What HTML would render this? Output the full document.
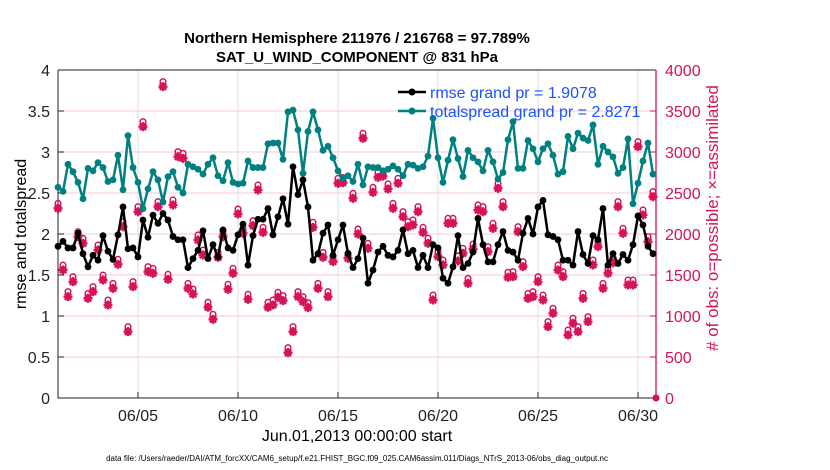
<!DOCTYPE html>
<html><head><meta charset="utf-8"><style>
html,body{margin:0;padding:0;background:#fff;}
svg{display:block;font-family:"Liberation Sans",Arial,sans-serif;}
</style></head><body>
<svg id="chart" width="830" height="470" viewBox="0 0 830 470" xmlns="http://www.w3.org/2000/svg">
<g id="grid"></g>
<g id="axes"></g>
<g id="marks"></g>
<text x="357" y="43" text-anchor="middle" font-size="15" font-weight="bold">Northern Hemisphere 211976 / 216768 = 97.789%</text>
<text x="357" y="62" text-anchor="middle" font-size="15" font-weight="bold">SAT_U_WIND_COMPONENT @ 831 hPa</text>
<text transform="translate(26,234) rotate(-90)" text-anchor="middle" font-size="16">rmse and totalspread</text>
<text transform="translate(718,218) rotate(-90)" text-anchor="middle" font-size="17" fill="#d6125a"># of obs: o=possible; ×=assimilated</text>
<text x="357" y="441" text-anchor="middle" font-size="16">Jun.01,2013 00:00:00 start</text>
<text x="357" y="461" text-anchor="middle" font-size="8">data file: /Users/raeder/DAI/ATM_forcXX/CAM6_setup/f.e21.FHIST_BGC.f09_025.CAM6assim.011/Diags_NTrS_2013-06/obs_diag_output.nc</text>
<g>
<line x1="398" y1="92" x2="426" y2="92" stroke="#000" stroke-width="2.5"/><circle cx="412" cy="92" r="3.5" fill="#000"/>
<text x="430" y="98" font-size="16" fill="#1a53ff">rmse grand pr = 1.9078</text>
<line x1="398" y1="111" x2="426" y2="111" stroke="#008080" stroke-width="2.5"/><circle cx="412" cy="111" r="3.5" fill="#008080"/>
<text x="430" y="117" font-size="16" fill="#1a53ff">totalspread grand pr = 2.8271</text>
</g>
</svg>
<script>
const spread=[2.57,2.52,2.85,2.76,2.63,2.43,2.80,2.77,2.87,2.81,2.64,2.66,2.96,2.54,3.20,2.81,2.63,2.31,2.55,2.76,2.66,2.39,2.70,2.76,2.57,2.50,2.85,2.82,2.79,2.73,2.85,
2.93,2.71,2.65,2.87,2.63,2.61,2.62,2.89,2.81,2.81,2.81,3.10,3.11,3.11,2.91,3.49,3.51,3.27,2.74,3.25,3.49,3.27,3.02,3.07,2.93,2.77,2.68,2.71,2.64,2.85,
2.60,2.82,2.81,2.81,2.77,2.79,2.83,2.79,2.71,2.85,2.84,2.80,2.82,2.95,3.41,2.93,2.63,2.90,3.15,2.92,2.70,3.02,2.93,2.88,2.77,3.02,2.88,2.67,2.75,3.15,
3.37,2.80,2.80,3.14,3.04,2.88,3.04,3.10,2.96,2.73,2.76,3.19,3.04,3.23,3.17,3.14,3.33,2.85,3.07,3.00,2.94,2.74,2.81,3.16,2.37,2.62,2.89,3.11,2.73];
const rmse=[1.85,1.91,1.83,1.83,2.01,1.76,1.60,1.74,1.68,1.98,1.79,1.69,1.99,2.33,1.82,1.83,1.72,2.17,1.96,2.23,2.13,2.25,2.17,1.97,1.93,1.93,1.59,1.70,1.80,2.04,1.70,
1.87,1.72,2.05,1.83,1.80,1.99,2.12,1.62,1.98,2.18,2.18,2.31,1.99,2.21,2.43,2.12,2.82,2.48,2.66,2.33,1.68,1.76,2.01,2.11,1.74,1.93,2.11,1.76,1.59,1.70,
1.95,1.40,1.56,1.78,1.85,1.74,1.72,1.80,2.05,1.76,1.80,1.59,1.74,1.59,1.87,1.83,1.46,1.40,1.60,1.98,1.59,1.64,1.78,2.19,1.87,1.66,1.66,1.87,2.03,1.80,
1.78,1.68,2.01,2.19,2.00,2.33,2.41,1.99,1.97,1.93,1.68,1.68,1.62,2.03,1.75,1.64,1.98,1.93,2.31,1.62,1.76,1.64,1.75,1.68,1.87,2.22,2.11,1.85,1.76];
const obsAssim=[2313,1561,1236,1419,1967,1886,1215,1297,1805,1439,1134,1337,1630,2089,809,1358,2272,3309,1541,1520,2333,3797,1447,2354,2943,2923,1337,1268,1927,1744,1106,
959,1715,1967,1325,1520,2244,2008,1203,2102,2537,2020,1106,1134,1228,1187,553,809,1236,1175,1102,2081,1337,1715,1236,1663,2618,2626,1703,2435,2000,
3167,1825,2508,2691,2707,2549,2313,2618,2211,2089,2110,2272,2020,1886,1195,1724,1622,2130,2130,1671,1764,1398,1817,2293,2272,1785,2069,2557,2333,1472,
1480,2028,1602,1215,1236,1419,1195,870,1033,1561,1480,768,911,809,1215,931,1622,1846,1337,1520,1650,2333,2008,1378,1378,3065,2232,1906,2455];
const leftTicks=[0,0.5,1,1.5,2,2.5,3,3.5,4];
const leftTickLabels=["0","0.5","1","1.5","2","2.5","3","3.5","4"];
const rightTicks=[0,500,1000,1500,2000,2500,3000,3500,4000];
const dateTickDays=[4,9,14,19,24,29];
const dateTickLabels=["06/05","06/10","06/15","06/20","06/25","06/30"];
const stepDays=0.25;

const X0=58,X1=656,Y0=398,Y1=70,PINK="#d6125a",TEAL="#008080";
const xS=d=>X0+(d/29.9)*(X1-X0);
const yL=v=>Y0-(v/4)*(Y0-Y1);
const yR=v=>Y0-(v/4000)*(Y0-Y1);
const NS="http://www.w3.org/2000/svg";
function mk(tag,attrs,parent){const e=document.createElementNS(NS,tag);for(const k in attrs)e.setAttribute(k,attrs[k]);parent.appendChild(e);return e;}
const grid=document.getElementById('grid'),axes=document.getElementById('axes'),marks=document.getElementById('marks');

rightTicks.forEach((t,i)=>{
  if(t>0&&t<4000){const g=mk('line',{x1:X0,x2:X1,y1:yR(t),y2:yR(t),stroke:'#f3c9d8','stroke-width':1},grid);
  
  }
});
dateTickDays.forEach((d,i)=>{
  const g=mk('line',{x1:xS(d),x2:xS(d),y1:Y1,y2:Y0,stroke:'#dddddd','stroke-width':1},grid);
  
  
  const tk=mk('line',{x1:xS(d),x2:xS(d),y1:Y0,y2:Y0-6,stroke:'#222'},axes);
  
  
  const tx=mk('text',{x:xS(d),y:Y0+23,'text-anchor':'middle','font-size':16,fill:'#222'},axes);
  tx.textContent=dateTickLabels[i];
  
  
});
leftTicks.forEach((t,i)=>{
  const tk=mk('line',{x1:X0,x2:X0+6,y1:yL(t),y2:yL(t),stroke:'#222'},axes);
  
  
  const tx=mk('text',{x:X0-8,y:yL(t)+6,'text-anchor':'end','font-size':16,fill:'#222'},axes);
  tx.textContent=leftTickLabels[i];
  
  
});
rightTicks.forEach(t=>{
  const tk=mk('line',{x1:X1,x2:X1-6,y1:yR(t),y2:yR(t),stroke:PINK},axes);
  
  
  const tx=mk('text',{x:X1+9,y:yR(t)+6,'font-size':16,fill:PINK},axes);
  tx.textContent=String(t);
  
  
});
const ax=mk('path',{d:`M${X0},${Y1}V${Y0}H${X1}`,fill:'none',stroke:'#222','stroke-width':1},axes);


const tl=mk('line',{x1:X0,x2:X1,y1:Y1,y2:Y1,stroke:'#222'},axes);


const ra=mk('line',{x1:X1,x2:X1,y1:Y1,y2:Y0,stroke:PINK,'stroke-width':1.3},axes);


const zd=mk('circle',{cx:X1,cy:Y0,r:3.5,fill:PINK},axes);



obsAssim.forEach((v,i)=>{
  const x=xS(i*stepDays),y=yR(v);
  const c=mk('circle',{cx:x,cy:y-5,r:2.8,fill:'none',stroke:PINK,'stroke-width':1.5},marks);
  
  
  const s=mk('path',{d:`M${x-4.5},${y}H${x+4.5}M${x},${y-4.5}V${y+4.5}M${x-3.2},${y-3.2}L${x+3.2},${y+3.2}M${x-3.2},${y+3.2}L${x+3.2},${y-3.2}`,stroke:PINK,'stroke-width':2.4},marks);
  
  
});
function series(arr,col,name){
  const p=mk('polyline',{points:arr.map((v,i)=>xS(i*stepDays)+','+yL(v)).join(' '),fill:'none',stroke:col,'stroke-width':2.5,'stroke-linejoin':'round'},marks);
  
  
  arr.forEach((v,i)=>{
    const c=mk('circle',{cx:xS(i*stepDays),cy:yL(v),r:3.4,fill:col},marks);
    
    
  });
}
series(spread,TEAL,'totalspread');
series(rmse,'#000','rmse');
</script>
</body></html>
